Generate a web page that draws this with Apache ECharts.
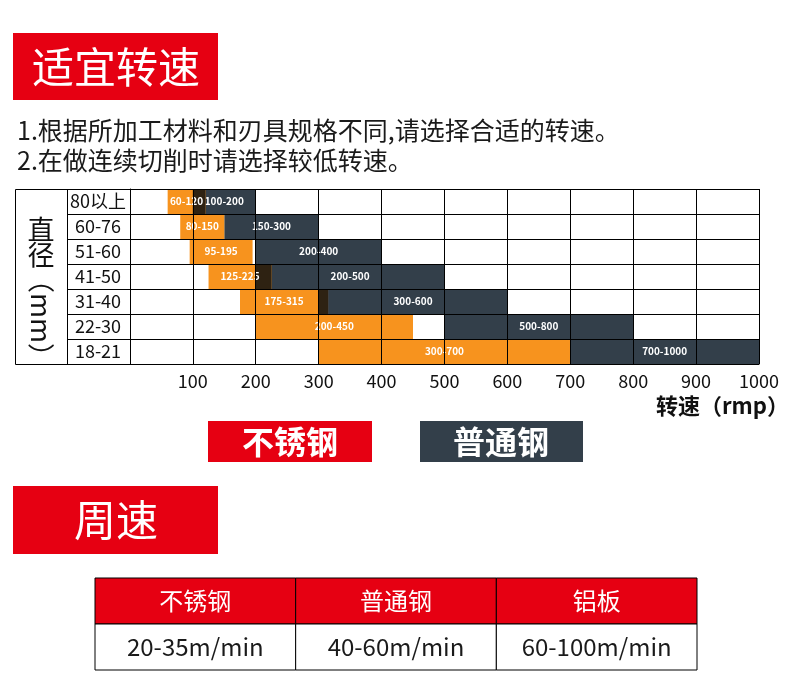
<!DOCTYPE html>
<html>
<head>
<meta charset="utf-8">
<script src="https://cdn.jsdelivr.net/npm/echarts@6/dist/echarts.min.js"></script>
<style>
  html, body { margin: 0; padding: 0; background: #fff; }
  #chart { width: 790px; height: 688px; }
</style>
</head>
<body>
<div id="chart"></div>
<script>
// 直径分档（从上到下）
const diameters = ['80以上', '60-76', '51-60', '41-50', '31-40', '22-30', '18-21']
// 不锈钢转速范围 [起, 止]
const stainlessRanges = [[60, 120], [80, 150], [95, 195], [125, 225], [175, 315], [200, 450], [300, 700]]
// 普通钢转速范围 [起, 止]
const carbonRanges = [[100, 200], [150, 300], [200, 400], [200, 500], [300, 600], [500, 800], [700, 1000]]
// 周速表
const materials = ['不锈钢', '普通钢', '铝板']
const surfaceSpeeds = ['20-35m/min', '40-60m/min', '60-100m/min']
const tableRows = ['材料', '周速']

const RED = '#e60012'
const ORANGE = '#f7931e'
const DARK = '#333f4a'
const OVERLAP = '#2e2212'
const FONT = '"Noto Sans CJK SC", "Noto Sans", sans-serif'

const toItems = ranges => ranges.map((r, idx) => [r[0], r[1], idx, r[0] + '-' + r[1]])

function barLabel(text) {
  return {
    style: {
      text,
      fill: '#fff',
      fontSize: 10,
      fontWeight: 'bold',
      fontFamily: FONT,
    },
  }
}

function rectBetween(api, from, to, row, color) {
  const start = api.coord([from, row])
  const end = api.coord([to, row])
  const h = api.size([0, 1])[1]
  return {
    type: 'rect',
    shape: { x: start[0], y: start[1] - h / 2, width: end[0] - start[0], height: h },
    style: { fill: color },
  }
}

function renderCarbon(params, api) {
  const rect = rectBetween(api, api.value(0), api.value(1), api.value(2), DARK)
  rect.textContent = barLabel(api.value(3))
  rect.textConfig = { position: 'inside' }
  return rect
}

// 不锈钢在上层，与普通钢重叠的部分用深棕色
function renderStainless(params, api) {
  const row = api.value(2)
  const from = api.value(0)
  const to = api.value(1)
  const other = carbonRanges[row]
  const lo = Math.max(from, other[0])
  const hi = Math.min(to, other[1])
  const children = [rectBetween(api, from, to, row, ORANGE)]
  if (hi > lo) children.push(rectBetween(api, lo, hi, row, OVERLAP))
  const whole = rectBetween(api, from, to, row, 'rgba(0,0,0,0)')
  whole.textContent = barLabel(api.value(3))
  whole.textConfig = { position: 'inside' }
  children.push(whole)
  return { type: 'group', children }
}

function renderCell(params, api) {
  const c = api.coord([api.value(0), api.value(1)])
  const size = api.size([1, 1])
  const header = api.value(1) === 0
  return {
    type: 'rect',
    shape: { x: c[0] - size[0] / 2, y: c[1] - size[1] / 2, width: size[0], height: size[1] },
    style: { fill: header ? RED : '#fff', stroke: '#000', lineWidth: 1 },
    textContent: {
      style: {
        text: api.value(2),
        fill: header ? '#fff' : '#1a1a1a',
        fontSize: 24,
        fontFamily: FONT,
      },
    },
    textConfig: { position: 'inside' },
  }
}

const tableItems = []
materials.forEach((m, i) => {
  tableItems.push([i, 0, m])
  tableItems.push([i, 1, surfaceSpeeds[i]])
})

const chart = echarts.init(document.getElementById('chart'))

chart.setOption({
  backgroundColor: '#fff',
  animation: false,
  textStyle: { fontFamily: FONT },
  grid: [
    { left: 67, top: 189, width: 693, height: 175 },
    { left: 95, top: 578, width: 602, height: 92 },
  ],
  xAxis: [
    {
      gridIndex: 0,
      type: 'value',
      min: -100,
      max: 1000,
      interval: 100,
      z: 10,
      axisLine: { show: true, lineStyle: { color: '#000', width: 1 } },
      axisTick: { show: false },
      splitLine: { show: true, lineStyle: { color: '#000', width: 1 } },
      axisLabel: {
        color: '#111',
        fontSize: 18,
        fontFamily: FONT,
        margin: 8,
        formatter: v => (v > 0 ? String(v) : ''),
      },
      name: '转速（rmp）',
      nameLocation: 'end',
      nameGap: 30,
      nameTextStyle: {
        color: '#111',
        fontSize: 22,
        fontWeight: 'bold',
        fontFamily: FONT,
        align: 'right',
        verticalAlign: 'top',
        padding: [31, 0, 0, 0],
      },
    },
    {
      gridIndex: 1,
      type: 'category',
      data: materials,
      show: false,
    },
  ],
  yAxis: [
    {
      gridIndex: 0,
      type: 'category',
      data: diameters,
      inverse: true,
      z: 10,
      axisLine: { show: true, lineStyle: { color: '#000', width: 1 } },
      axisTick: { show: false },
      splitLine: { show: true, lineStyle: { color: '#000', width: 1 } },
      axisLabel: {
        inside: true,
        margin: 31,
        align: 'center',
        color: '#111',
        fontSize: 18,
        fontFamily: FONT,
      },
    },
    {
      gridIndex: 1,
      type: 'category',
      data: tableRows,
      inverse: true,
      show: false,
    },
  ],
  series: [
    {
      name: '普通钢',
      type: 'custom',
      xAxisIndex: 0,
      yAxisIndex: 0,
      z: 2,
      renderItem: renderCarbon,
      encode: { x: [0, 1], y: 2 },
      data: toItems(carbonRanges),
    },
    {
      name: '不锈钢',
      type: 'custom',
      xAxisIndex: 0,
      yAxisIndex: 0,
      z: 3,
      renderItem: renderStainless,
      encode: { x: [0, 1], y: 2 },
      data: toItems(stainlessRanges),
    },
    {
      name: '周速',
      type: 'custom',
      xAxisIndex: 1,
      yAxisIndex: 1,
      renderItem: renderCell,
      encode: { x: 0, y: 1 },
      data: tableItems,
    },
  ],
  graphic: [
    // 适宜转速
    { type: 'rect', shape: { x: 13, y: 33, width: 205, height: 67 }, style: { fill: RED } },
    {
      type: 'text', x: 116, y: 67,
      style: { text: '适宜转速', fill: '#fff', fontSize: 42, fontFamily: FONT, align: 'center', verticalAlign: 'middle' },
    },
    {
      type: 'text', x: 17, y: 130,
      style: { text: '1.根据所加工材料和刃具规格不同,请选择合适的转速。', fill: '#1a1a1a', fontSize: 25, fontFamily: FONT, verticalAlign: 'middle' },
    },
    {
      type: 'text', x: 17, y: 160,
      style: { text: '2.在做连续切削时请选择较低转速。', fill: '#1a1a1a', fontSize: 25, fontFamily: FONT, verticalAlign: 'middle' },
    },
    // 直径（mm）
    { type: 'rect', shape: { x: 15.5, y: 189.5, width: 52, height: 175 }, style: { fill: 'none', stroke: '#000', lineWidth: 1 } },
    {
      type: 'text', x: 41, y: 242,
      style: { text: '直\n径', fill: '#111', fontSize: 27, lineHeight: 25, fontFamily: FONT, align: 'center', verticalAlign: 'middle' },
    },
    {
      type: 'text', x: 41, y: 318, rotation: -Math.PI / 2,
      style: { text: '（mm）', fill: '#111', fontSize: 27, fontFamily: FONT, align: 'center', verticalAlign: 'middle' },
    },
    // 图例
    { type: 'rect', shape: { x: 208, y: 421, width: 164, height: 41 }, style: { fill: RED } },
    {
      type: 'text', x: 290, y: 442,
      style: { text: '不锈钢', fill: '#fff', fontSize: 32, fontWeight: 'bold', fontFamily: FONT, align: 'center', verticalAlign: 'middle' },
    },
    { type: 'rect', shape: { x: 420, y: 421, width: 163, height: 41 }, style: { fill: DARK } },
    {
      type: 'text', x: 501, y: 442,
      style: { text: '普通钢', fill: '#fff', fontSize: 32, fontWeight: 'bold', fontFamily: FONT, align: 'center', verticalAlign: 'middle' },
    },
    // 周速
    { type: 'rect', shape: { x: 13, y: 486, width: 205, height: 68 }, style: { fill: RED } },
    {
      type: 'text', x: 116, y: 520,
      style: { text: '周速', fill: '#fff', fontSize: 42, fontFamily: FONT, align: 'center', verticalAlign: 'middle' },
    },
  ],
})
</script>
</body>
</html>
